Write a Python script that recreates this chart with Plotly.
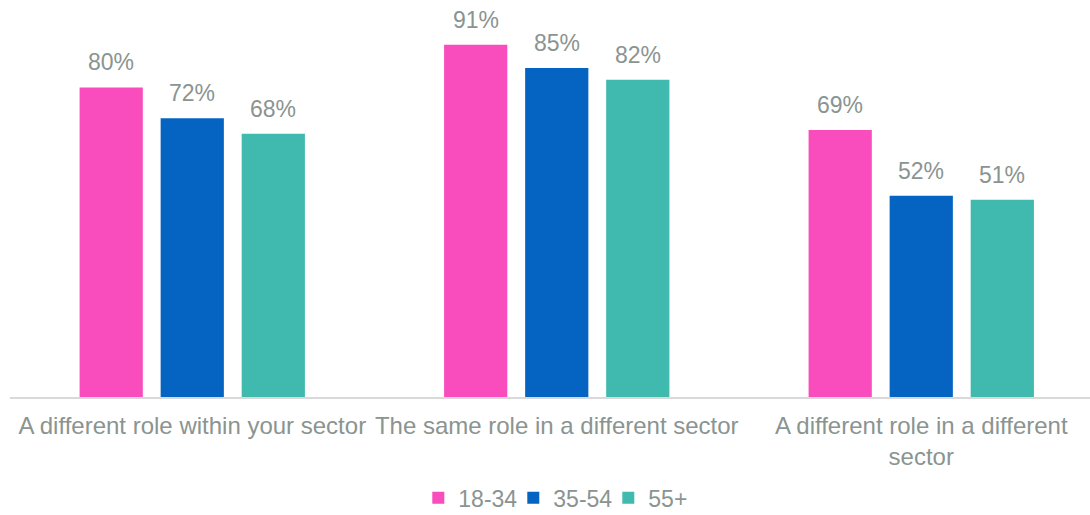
import plotly.graph_objects as go

categories = ["A different role within your sector",
              "The same role in a different sector",
              "A different role in a different<br>sector"]
series_names = ["18-34", "35-54", "55+"]
values_18_34 = [80, 91, 69]
values_35_54 = [72, 85, 52]
values_55 = [68, 82, 51]
colors = ["#F94CBD", "#0563C1", "#40B9AF"]

all_values = [values_18_34, values_35_54, values_55]
gray = "#8A9490"
font_family = "Liberation Sans, Arial, sans-serif"

fig = go.Figure()
for name, vals, col in zip(series_names, all_values, colors):
    fig.add_trace(go.Bar(x=categories, y=vals, name=name, marker_color=col,
                         marker_line_width=0))

# data labels
bargap = 0.333
groupgap = 0.22
slot = (1 - bargap) / 3
for i, vals in enumerate(all_values):
    off = (i - 1) * slot
    for j, v in enumerate(vals):
        fig.add_annotation(x=j + off, y=v, xref="x", yref="y", text=f"{v}%",
                           showarrow=False, yanchor="middle", yshift=25,
                           font=dict(size=23, color=gray, family=font_family))

fig.update_layout(
    width=1090, height=515,
    margin=dict(l=10, r=0, t=10, b=118, autoexpand=False),
    plot_bgcolor="white", paper_bgcolor="white",
    barmode="group", bargap=bargap, bargroupgap=groupgap,
    font=dict(family=font_family, color=gray, size=23),
    showlegend=True,
    legend=dict(orientation="h", x=0.51, xanchor="center", y=-0.205, yanchor="top",
                entrywidth=50, font=dict(size=23, color=gray), itemclick=False),
    xaxis=dict(type="category", range=[-0.5, -0.5 + 1080 / 364.5],
               showline=True, linecolor="#D9D9D9", linewidth=2, automargin=False,
               ticks="", ticklabelstandoff=6, tickfont=dict(size=24, color=gray),
               showgrid=False),
    yaxis=dict(range=[0, 100], visible=False, showgrid=False, automargin=False),
)

fig.write_html("out.html")
